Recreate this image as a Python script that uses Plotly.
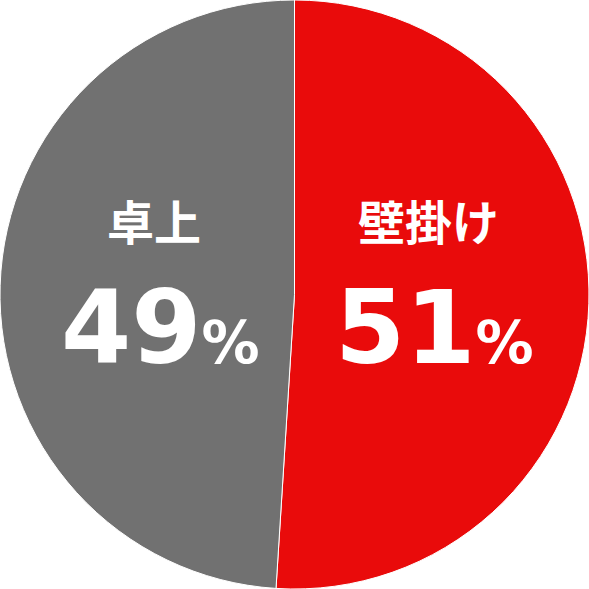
import plotly.graph_objects as go

labels = ["壁掛け", "卓上"]
values = [51, 49]
colors = ["#E90B0B", "#717171"]
label_pos = [(428, 220, 328), (154, 220, 328)]  # x, y of name, y of percent (pixels)

W = H = 589

fig = go.Figure(go.Pie(
    labels=labels, values=values, sort=False, direction="clockwise", rotation=0,
    marker=dict(colors=colors, line=dict(color="white", width=1)),
    textinfo="none", hoverinfo="skip", showlegend=False,
    domain=dict(x=[0, 1], y=[0, 1]),
))

jp = "Noto Sans CJK JP"
num = "DejaVu Sans"
for lab, val, (px, py1, py2) in zip(labels, values, label_pos):
    fig.add_annotation(x=px / W, y=1 - py1 / H, xref="paper", yref="paper",
                       xanchor="center", yanchor="middle",
                       text=f"<b>{lab}</b>", showarrow=False,
                       font=dict(family=jp, size=47, color="white"))
    fig.add_annotation(x=(px + 6) / W, y=1 - py2 / H, xref="paper", yref="paper",
                       xanchor="center", yanchor="middle",
                       text=f"<b>{val}<span style='font-size:58px'>%</span></b>", showarrow=False,
                       font=dict(family=num, size=101, color="white"))

fig.update_layout(width=W, height=H, margin=dict(l=0, r=0, t=0, b=0),
                  paper_bgcolor="white", plot_bgcolor="white")
fig.write_html("out.html", config={"displayModeBar": False},
               post_script="document.body.style.margin='0';")
